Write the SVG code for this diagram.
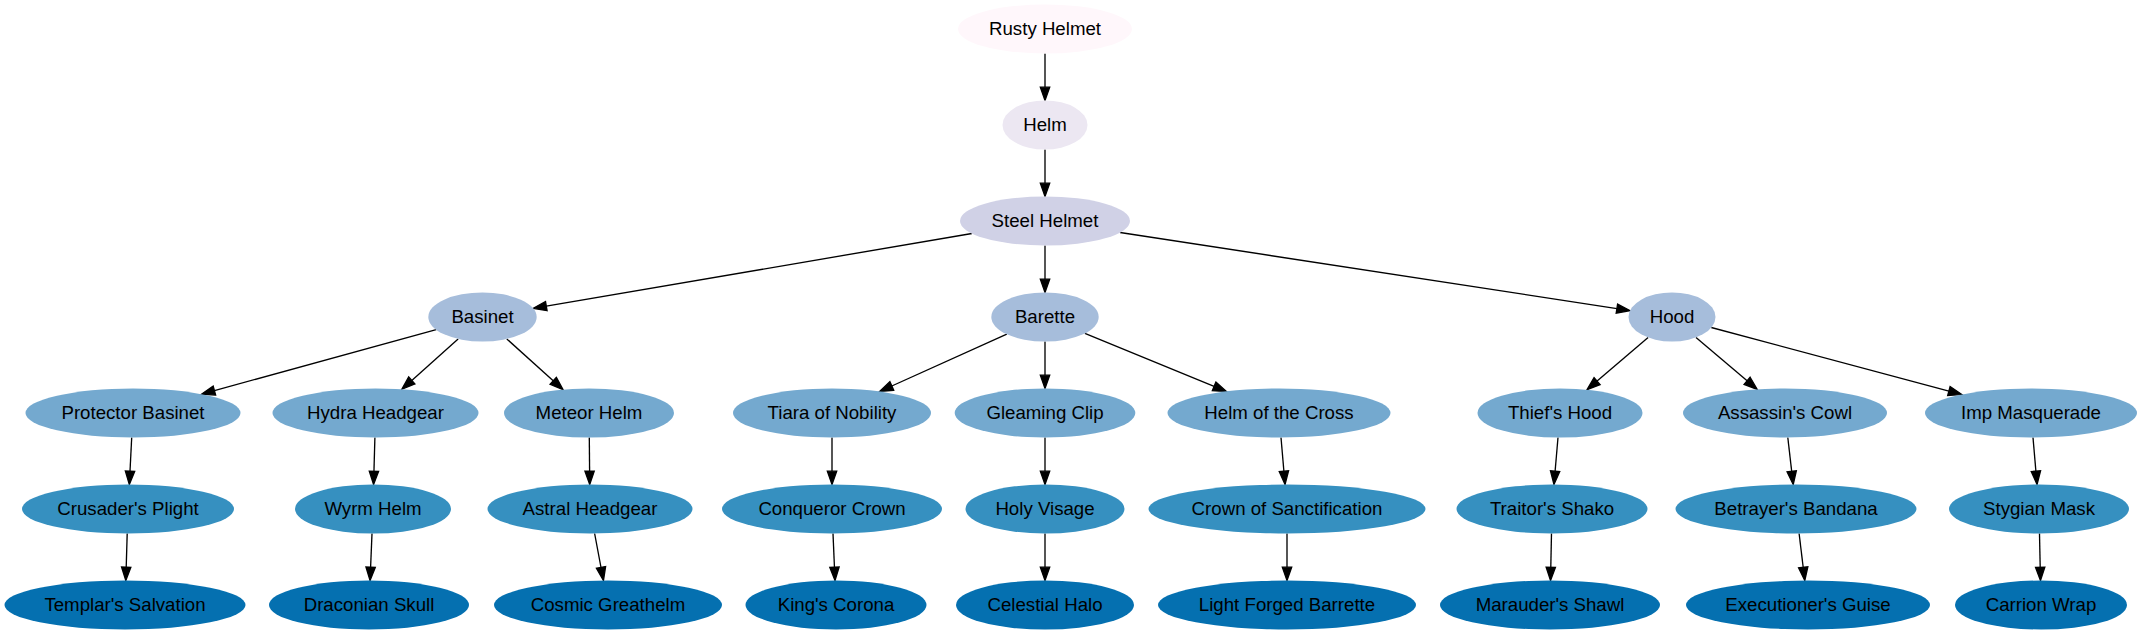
<svg xmlns="http://www.w3.org/2000/svg" width="2141" height="635" viewBox="0 0 2141 635">
<style>
text{font-family:"Liberation Sans",Arial,sans-serif;font-size:18.67px;text-anchor:middle;fill:#000}
ellipse{stroke:none}
.c1{fill:#fff7fb}.c2{fill:#ece7f2}.c3{fill:#d0d1e6}.c4{fill:#a6bddb}.c5{fill:#74a9cf}.c6{fill:#3690c0}.c7{fill:#0570b0}
#edges line{stroke:#000;stroke-width:1.33;marker-end:url(#ah)}
</style>
<defs>
<marker id="ah" markerUnits="userSpaceOnUse" markerWidth="16" markerHeight="12" refX="0" refY="4.67" orient="auto" overflow="visible">
<path d="M0,0 L13.3,4.67 L0,9.33 Z" fill="#000" stroke="#000" stroke-width="1.33"/>
</marker>
</defs>
<rect width="2141" height="635" fill="#fff"/>
<g id="edges">
<line x1="1045" y1="53.5" x2="1045" y2="87.2"/>
<line x1="1045" y1="149.5" x2="1045" y2="183.2"/>
<line x1="971.9" y1="233.5" x2="546.3" y2="306.1"/>
<line x1="1045" y1="245.5" x2="1045" y2="279.2"/>
<line x1="1120.1" y1="232.5" x2="1616.9" y2="308.6"/>
<line x1="436.2" y1="329.7" x2="214.4" y2="390.6"/>
<line x1="458.1" y1="338.9" x2="411.8" y2="380.4"/>
<line x1="506.8" y1="338.9" x2="553.2" y2="380.8"/>
<line x1="1006.8" y1="334.2" x2="891.8" y2="386.0"/>
<line x1="1045" y1="341.5" x2="1045" y2="375.2"/>
<line x1="1084.9" y1="333.4" x2="1214.1" y2="386.4"/>
<line x1="1648.1" y1="337.5" x2="1597.1" y2="381.1"/>
<line x1="1696.0" y1="337.4" x2="1747.1" y2="380.8"/>
<line x1="1711.3" y1="327.5" x2="1948.9" y2="391.1"/>
<line x1="131.7" y1="437.5" x2="130.0" y2="471.2"/>
<line x1="374.9" y1="437.5" x2="373.95" y2="471.2"/>
<line x1="589.3" y1="437.5" x2="589.6" y2="471.2"/>
<line x1="832" y1="437.5" x2="832" y2="471.2"/>
<line x1="1045" y1="437.5" x2="1045" y2="471.2"/>
<line x1="1281.0" y1="437.5" x2="1283.9" y2="471.2"/>
<line x1="1558" y1="437.5" x2="1555.1" y2="471.2"/>
<line x1="1787.8" y1="437.5" x2="1791.7" y2="471.3"/>
<line x1="2033" y1="437.5" x2="2035.9" y2="471.2"/>
<line x1="127.2" y1="533.5" x2="126.2" y2="567.2"/>
<line x1="372" y1="533.5" x2="370.6" y2="567.2"/>
<line x1="594.6" y1="533.5" x2="601.0" y2="567.4"/>
<line x1="833" y1="533.5" x2="834.45" y2="567.2"/>
<line x1="1045" y1="533.5" x2="1045" y2="567.2"/>
<line x1="1287" y1="533.5" x2="1287" y2="567.2"/>
<line x1="1551.5" y1="533.5" x2="1550.8" y2="567.2"/>
<line x1="1799.1" y1="533.5" x2="1803.2" y2="567.3"/>
<line x1="2039.5" y1="533.5" x2="2040.2" y2="567.2"/>
</g>
<g id="rusty-helmet"><ellipse class="c1" cx="1045" cy="29" rx="87" ry="24.5"/><text x="1045" y="34.5">Rusty Helmet</text></g>
<g id="helm"><ellipse class="c2" cx="1045" cy="125" rx="42.5" ry="24.5"/><text x="1045" y="130.5">Helm</text></g>
<g id="steel-helmet"><ellipse class="c3" cx="1045" cy="221" rx="85" ry="24.5"/><text x="1045" y="226.5">Steel Helmet</text></g>
<g id="basinet"><ellipse class="c4" cx="482.5" cy="317" rx="54.2" ry="24.5"/><text x="482.5" y="322.5">Basinet</text></g>
<g id="barette"><ellipse class="c4" cx="1045" cy="317" rx="53.7" ry="24.5"/><text x="1045" y="322.5">Barette</text></g>
<g id="hood"><ellipse class="c4" cx="1672" cy="317" rx="43.5" ry="24.5"/><text x="1672" y="322.5">Hood</text></g>
<g id="protector-basinet"><ellipse class="c5" cx="133" cy="413" rx="107.5" ry="24.5"/><text x="133" y="418.5">Protector Basinet</text></g>
<g id="hydra-headgear"><ellipse class="c5" cx="375.5" cy="413" rx="103" ry="24.5"/><text x="375.5" y="418.5">Hydra Headgear</text></g>
<g id="meteor-helm"><ellipse class="c5" cx="589" cy="413" rx="85" ry="24.5"/><text x="589" y="418.5">Meteor Helm</text></g>
<g id="tiara-of-nobility"><ellipse class="c5" cx="832" cy="413" rx="99" ry="24.5"/><text x="832" y="418.5">Tiara of Nobility</text></g>
<g id="gleaming-clip"><ellipse class="c5" cx="1045" cy="413" rx="90.3" ry="24.5"/><text x="1045" y="418.5">Gleaming Clip</text></g>
<g id="helm-of-the-cross"><ellipse class="c5" cx="1279" cy="413" rx="111.5" ry="24.5"/><text x="1279" y="418.5">Helm of the Cross</text></g>
<g id="thiefs-hood"><ellipse class="c5" cx="1560" cy="413" rx="82.5" ry="24.5"/><text x="1560" y="418.5">Thief's Hood</text></g>
<g id="assassins-cowl"><ellipse class="c5" cx="1785" cy="413" rx="102" ry="24.5"/><text x="1785" y="418.5">Assassin's Cowl</text></g>
<g id="imp-masquerade"><ellipse class="c5" cx="2031" cy="413" rx="106" ry="24.5"/><text x="2031" y="418.5">Imp Masquerade</text></g>
<g id="crusaders-plight"><ellipse class="c6" cx="128" cy="509" rx="106" ry="24.5"/><text x="128" y="514.5">Crusader's Plight</text></g>
<g id="wyrm-helm"><ellipse class="c6" cx="373" cy="509" rx="78" ry="24.5"/><text x="373" y="514.5">Wyrm Helm</text></g>
<g id="astral-headgear"><ellipse class="c6" cx="590" cy="509" rx="102.5" ry="24.5"/><text x="590" y="514.5">Astral Headgear</text></g>
<g id="conqueror-crown"><ellipse class="c6" cx="832" cy="509" rx="110" ry="24.5"/><text x="832" y="514.5">Conqueror Crown</text></g>
<g id="holy-visage"><ellipse class="c6" cx="1045" cy="509" rx="79.5" ry="24.5"/><text x="1045" y="514.5">Holy Visage</text></g>
<g id="crown-of-sanctification"><ellipse class="c6" cx="1287" cy="509" rx="138.5" ry="24.5"/><text x="1287" y="514.5">Crown of Sanctification</text></g>
<g id="traitors-shako"><ellipse class="c6" cx="1552" cy="509" rx="95.5" ry="24.5"/><text x="1552" y="514.5">Traitor's Shako</text></g>
<g id="betrayers-bandana"><ellipse class="c6" cx="1796" cy="509" rx="120.5" ry="24.5"/><text x="1796" y="514.5">Betrayer's Bandana</text></g>
<g id="stygian-mask"><ellipse class="c6" cx="2039" cy="509" rx="90" ry="24.5"/><text x="2039" y="514.5">Stygian Mask</text></g>
<g id="templars-salvation"><ellipse class="c7" cx="125" cy="605" rx="120.5" ry="24.5"/><text x="125" y="610.5">Templar's Salvation</text></g>
<g id="draconian-skull"><ellipse class="c7" cx="369" cy="605" rx="100" ry="24.5"/><text x="369" y="610.5">Draconian Skull</text></g>
<g id="cosmic-greathelm"><ellipse class="c7" cx="608" cy="605" rx="114" ry="24.5"/><text x="608" y="610.5">Cosmic Greathelm</text></g>
<g id="kings-corona"><ellipse class="c7" cx="836" cy="605" rx="90.5" ry="24.5"/><text x="836" y="610.5">King's Corona</text></g>
<g id="celestial-halo"><ellipse class="c7" cx="1045" cy="605" rx="89" ry="24.5"/><text x="1045" y="610.5">Celestial Halo</text></g>
<g id="light-forged-barrette"><ellipse class="c7" cx="1287" cy="605" rx="129" ry="24.5"/><text x="1287" y="610.5">Light Forged Barrette</text></g>
<g id="marauders-shawl"><ellipse class="c7" cx="1550" cy="605" rx="110" ry="24.5"/><text x="1550" y="610.5">Marauder's Shawl</text></g>
<g id="executioners-guise"><ellipse class="c7" cx="1808" cy="605" rx="122" ry="24.5"/><text x="1808" y="610.5">Executioner's Guise</text></g>
<g id="carrion-wrap"><ellipse class="c7" cx="2041" cy="605" rx="86" ry="24.5"/><text x="2041" y="610.5">Carrion Wrap</text></g>
</svg>
